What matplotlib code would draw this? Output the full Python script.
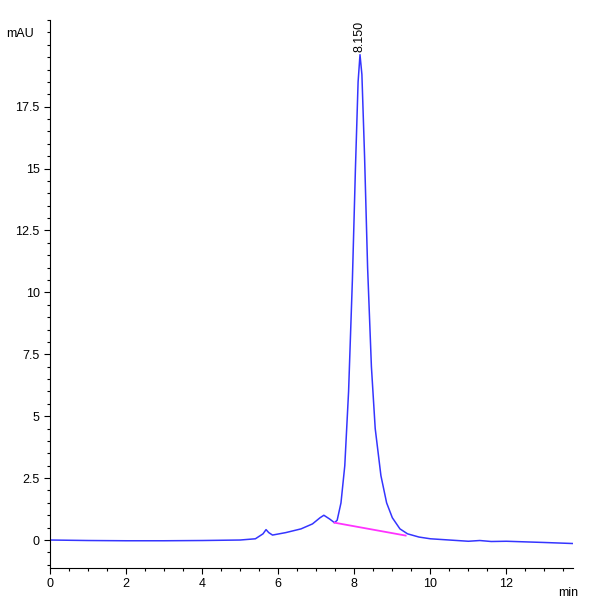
import matplotlib.pyplot as plt
from matplotlib.ticker import MultipleLocator

plt.rcParams['font.family'] = ['Liberation Sans', 'DejaVu Sans']

# Chromatogram points (time in min, signal in mAU)
time_min = [0, 1, 2, 3, 4, 5, 5.4, 5.6, 5.68, 5.75, 5.85, 6.2, 6.6, 6.9, 7.1, 7.2,
            7.35, 7.48, 7.55, 7.65, 7.75, 7.85, 7.95, 8.03, 8.1, 8.15, 8.2, 8.27,
            8.35, 8.45, 8.55, 8.7, 8.85, 9.0, 9.2, 9.4, 9.7, 10, 10.5, 11, 11.3,
            11.6, 12, 13, 13.9]
signal = [0, -0.02, -0.03, -0.03, -0.02, 0.0, 0.05, 0.25, 0.42, 0.3, 0.2, 0.3,
          0.45, 0.65, 0.9, 1.0, 0.85, 0.7, 0.8, 1.5, 3.0, 6.0, 10.5, 15.0, 18.5,
          19.6, 18.8, 15.5, 11.0, 7.0, 4.5, 2.6, 1.5, 0.9, 0.45, 0.25, 0.12,
          0.05, 0.0, -0.05, -0.02, -0.06, -0.05, -0.1, -0.15]
base_t = [7.48, 9.35]
base_y = [0.7, 0.18]
peak_rt = 8.150
peak_h = 19.6

fig = plt.figure(figsize=(6, 6), dpi=100)
ax = fig.add_axes([50/600, 32/600, 523/600, 548/600])

ax.plot(time_min, signal, color='#3535ff', linewidth=1.1)
ax.plot(base_t, base_y, color='#ff33ff', linewidth=1.3)
ax.text(peak_rt, peak_h + 0.1, f"{peak_rt:.3f}", rotation=90, ha='center',
        va='bottom', fontsize=9)

ax.set_xlim(0, 13.75)
ax.set_ylim(-1.13, 21.0)
ax.xaxis.set_major_locator(MultipleLocator(2))
ax.xaxis.set_minor_locator(MultipleLocator(0.5))
ax.yaxis.set_major_locator(MultipleLocator(2.5))
ax.yaxis.set_minor_locator(MultipleLocator(0.5))
ax.set_yticks([0, 2.5, 5, 7.5, 10, 12.5, 15, 17.5])
ax.set_yticklabels(['0', '2.5', '5', '7.5', '10', '12.5', '15', '17.5'])
ax.set_xticks([0, 2, 4, 6, 8, 10, 12])
ax.tick_params(labelsize=9, length=4, width=0.8)
ax.tick_params(which='minor', length=2.5, width=0.8)
for s in ['top', 'right']:
    ax.spines[s].set_visible(False)
ax.text(-0.03, 0.975, 'mAU', transform=ax.transAxes, ha='right', va='center', fontsize=9)
ax.text(0.99, -0.035, 'min', transform=ax.transAxes, ha='center', va='top', fontsize=9)

fig.savefig('out.png', dpi=100)
